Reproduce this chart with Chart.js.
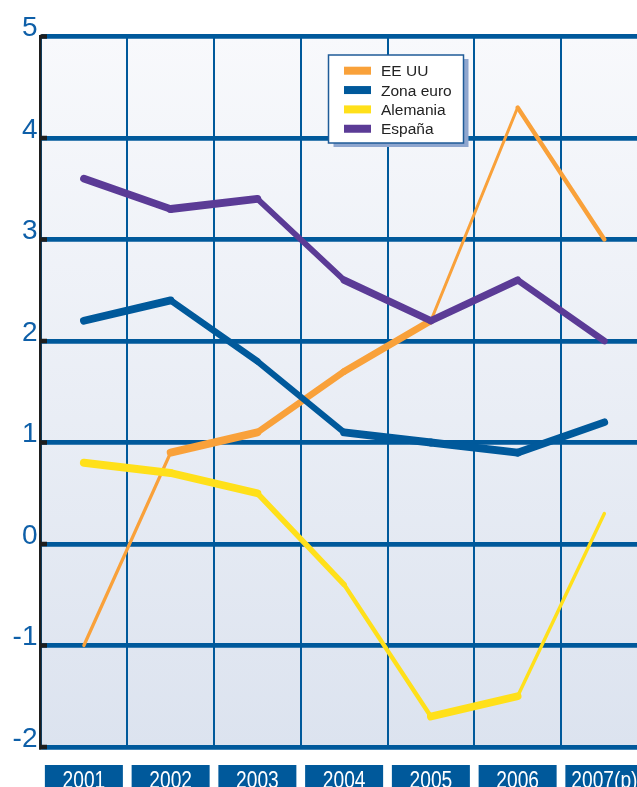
<!DOCTYPE html>
<html>
<head>
<meta charset="utf-8">
<script src="https://cdn.jsdelivr.net/npm/chart.js@4"></script>
<style>
  html, body { margin: 0; padding: 0; background: #ffffff; overflow: hidden; }
  #wrap { position: relative; width: 660px; height: 787px; }
</style>
</head>
<body>
<div id="wrap"><canvas id="chart"></canvas></div>
<script>
// Crecimiento del PIB (%), 2001-2007
const years = ['2001', '2002', '2003', '2004', '2005', '2006', '2007(p)'];
const eeuu      = [-1.0, 0.9, 1.1, 1.7, 2.2, 4.3, 3.0];
const zonaEuro  = [2.2, 2.4, 1.8, 1.1, 1.0, 0.9, 1.2];
const alemania  = [0.8, 0.7, 0.5, -0.4, -1.7, -1.5, 0.3];
const espana    = [3.6, 3.3, 3.4, 2.6, 2.2, 2.6, 2.0];
const yMin = -2, yMax = 5;

const BLUE = '#00599b';
const FONT = '"Liberation Sans", Arial, Helvetica, sans-serif';

// Lines keep a constant vertical thickness: the stroke width of each
// segment shrinks with its steepness.
function bandSegment(thickness) {
  return {
    borderWidth: ctx => {
      const dx = ctx.p1.x - ctx.p0.x, dy = ctx.p1.y - ctx.p0.y;
      const len = Math.hypot(dx, dy) || 1;
      return Math.max(3, thickness * Math.abs(dx) / len);
    }
  };
}

function series(label, data, color, order) {
  return {
    label, data, order,
    borderColor: color,
    backgroundColor: color,
    borderWidth: 6,
    borderJoinStyle: 'miter',
    borderCapStyle: 'round',
    pointRadius: 0,
    pointHoverRadius: 0,
    tension: 0,
    fill: false,
    segment: bandSegment(8)
  };
}

// Plot area background gradient
const backdrop = {
  id: 'backdrop',
  beforeDraw(chart) {
    const { ctx, chartArea: a } = chart;
    const g = ctx.createLinearGradient(0, a.top, 0, a.bottom);
    g.addColorStop(0, '#f8f9fc');
    g.addColorStop(1, '#dce3ef');
    ctx.save();
    ctx.fillStyle = g;
    ctx.fillRect(a.left, a.top, a.right - a.left, a.bottom - a.top);
    ctx.restore();
  }
};

// Black stubs where each value line meets the axis
const axisStubs = {
  id: 'axisStubs',
  afterDatasetsDraw(chart) {
    const { ctx, chartArea: a, scales: { y } } = chart;
    ctx.save();
    ctx.fillStyle = '#1e1e1e';
    y.ticks.forEach(t => {
      const py = y.getPixelForValue(t.value);
      ctx.fillRect(a.left, py - 2.25, 6.5, 4.5);
    });
    ctx.restore();
  }
};

// Year labels in blue boxes under the plot
const yearBoxes = {
  id: 'yearBoxes',
  afterDraw(chart) {
    const { ctx, scales: { x } } = chart;
    ctx.save();
    years.forEach((lab, i) => {
      const cx = x.getPixelForValue(i);
      ctx.fillStyle = BLUE;
      ctx.fillRect(cx - 39, 765, 78, 30);
      ctx.save();
      ctx.translate(cx, 788);
      ctx.scale(0.8, 1);
      ctx.fillStyle = '#ffffff';
      ctx.font = '24px ' + FONT;
      ctx.textAlign = 'center';
      ctx.textBaseline = 'alphabetic';
      ctx.fillText(lab, 0, 0);
      ctx.restore();
    });
    ctx.restore();
  }
};

// Legend panel with offset shadow
const legendBox = {
  id: 'legendBox',
  afterDraw(chart) {
    const { ctx } = chart;
    const bx = 328.5, by = 55, bw = 135, bh = 88;
    ctx.save();
    ctx.fillStyle = '#8ea6cf';
    ctx.fillRect(bx + 5, by + 4, bw, bh);
    ctx.fillStyle = '#ffffff';
    ctx.fillRect(bx, by, bw, bh);
    ctx.strokeStyle = '#1f5b98';
    ctx.lineWidth = 1.5;
    ctx.strokeRect(bx, by, bw, bh);
    ctx.font = '15.5px ' + FONT;
    ctx.textAlign = 'left';
    ctx.textBaseline = 'alphabetic';
    chart.data.datasets.forEach((ds, i) => {
      const ry = 70.7 + i * 19.35;
      ctx.fillStyle = ds.borderColor;
      ctx.fillRect(344, ry - 4, 27, 8);
      ctx.fillStyle = '#222222';
      ctx.fillText(ds.label, 381, ry + 5.5);
    });
    ctx.restore();
  }
};

new Chart(document.getElementById('chart'), {
  type: 'line',
  data: {
    labels: years,
    datasets: [
      series('EE UU', eeuu, '#f9a13a', 3),
      series('Zona euro', zonaEuro, BLUE, 2),
      series('Alemania', alemania, '#ffe01a', 1),
      series('España', espana, '#5b3b96', 0)
    ]
  },
  options: {
    responsive: true,
    maintainAspectRatio: false,
    animation: false,
    layout: { padding: { top: 36.5, right: 12.25, left: 0, bottom: 0 } },
    plugins: {
      legend: { display: false },
      tooltip: { enabled: false },
      title: { display: false }
    },
    scales: {
      x: {
        type: 'category',
        offset: true,
        grid: { offset: true, color: BLUE, lineWidth: 2, drawTicks: false },
        border: { display: false },
        ticks: { display: false },
        afterFit: s => { s.height = 40; }
      },
      y: {
        min: yMin,
        max: yMax,
        grid: { color: BLUE, lineWidth: 4.8, drawTicks: false },
        border: { display: true, color: '#1e1e1e', width: 2.5 },
        ticks: {
          stepSize: 1,
          color: '#0e5fa8',
          font: { family: FONT, size: 28 },
          padding: 3,
          labelOffset: -8
        },
        afterFit: s => { s.width = 40.5; }
      }
    }
  },
  plugins: [backdrop, axisStubs, yearBoxes, legendBox]
});
</script>
</body>
</html>
